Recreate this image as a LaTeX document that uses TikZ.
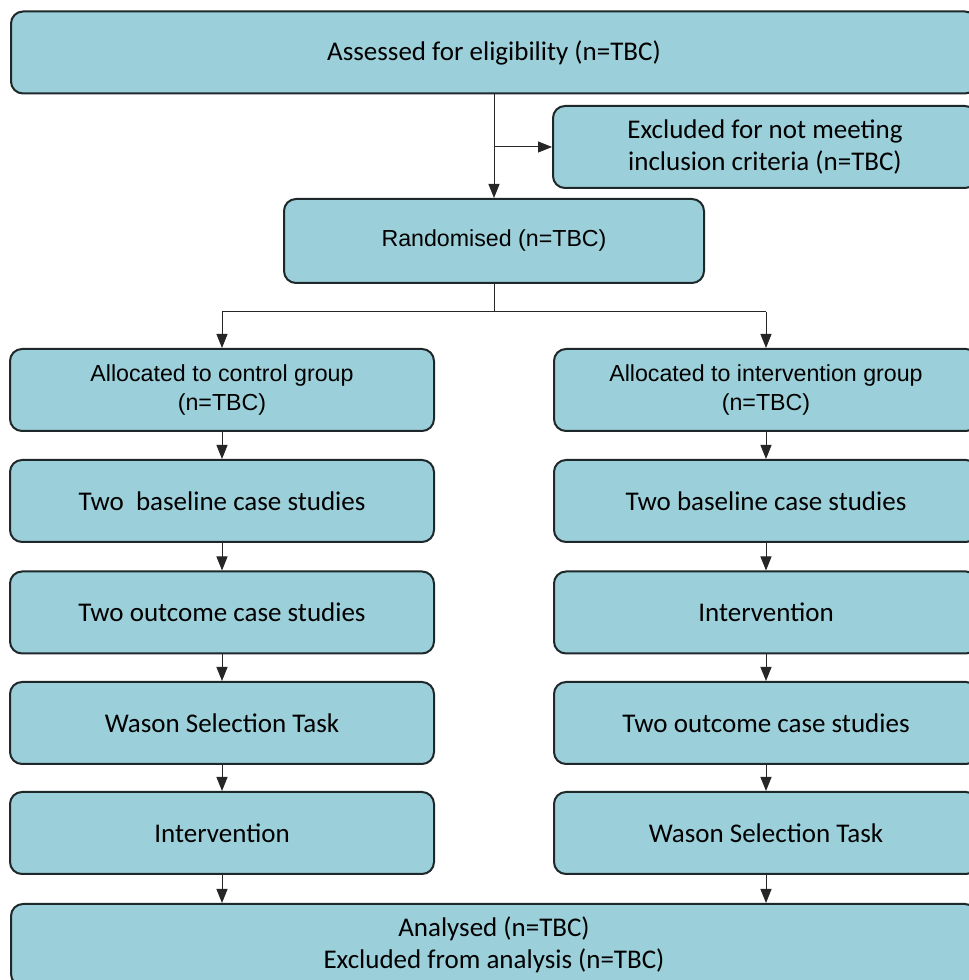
\documentclass[tikz,border=0pt]{standalone}
\usepackage{fontspec}
\setmainfont{Carlito}
\newfontfamily\arialfont{Liberation Sans}
\usepackage{tikz}
\usetikzlibrary{arrows.meta, calc}
\definecolor{boxfill}{RGB}{155,207,217}
\definecolor{boxline}{RGB}{30,40,42}
\tikzset{
	flowbox/.style={draw=boxline, line width=1pt, fill=boxfill, rounded corners=6pt,
		align=center, inner sep=0pt, minimum height=41pt,
		font=\fontsize{13.5}{16}\selectfont},
	widebox/.style={flowbox, minimum width=483pt},
	colbox/.style={flowbox, minimum width=212pt},
	arialbox/.style={font=\arialfont\fontsize{11.6}{14.5}\selectfont},
	flowline/.style={draw=black!85, line width=0.5pt, -{Triangle[width=5.5pt, length=7pt]}}
}

\begin{document}
\begin{tikzpicture}[x=0.5pt, y=0.5pt]
	\useasboundingbox (0,0) rectangle (969,980);
	\clip (0,0) rectangle (969,980);
	\node [widebox] (assess) at (494,927.5) {Assessed for eligibility (n=TBC)};
	\node [colbox] (excl) at (765,833) {Excluded for not meeting\\inclusion criteria (n=TBC)};
	\node [colbox, arialbox, minimum height=42pt, minimum width=210pt] (rand) at (494,739) {Randomised (n=TBC)};
	% control group
	\node [colbox, arialbox] (ctrlA) at (222,590) {Allocated to control group\\(n=TBC)};
	\node [colbox] (ctrlB) at (222,479) {Two\ \ baseline case studies};
	\node [colbox] (ctrlC) at (222,367.5) {Two outcome case studies};
	\node [colbox] (ctrlD) at (222,257) {Wason Selection Task};
	\node [colbox] (ctrlE) at (222,147) {Intervention};
	% intervention group
	\node [colbox, arialbox] (intvA) at (766,590) {Allocated to intervention group\\(n=TBC)};
	\node [colbox] (intvB) at (766,479) {Two baseline case studies};
	\node [colbox] (intvC) at (766,367.5) {Intervention};
	\node [colbox] (intvD) at (766,257) {Two outcome case studies};
	\node [colbox] (intvE) at (766,147) {Wason Selection Task};
	\node [widebox] (anal) at (494,35) {Analysed (n=TBC)\\Excluded from analysis (n=TBC)};
	% connectors
	\coordinate (branch) at (assess.south |- excl.west);
	\coordinate (split) at (494,668);
	\draw [flowline] (assess.south) -- (rand.north);
	\draw [flowline] (branch) -- (excl.west);
	\draw [draw=black!85, line width=0.5pt] (rand.south) -- (split);
	\draw [draw=black!85, line width=0.5pt] (ctrlA.north |- split) -- (intvA.north |- split);
	\draw [flowline] (ctrlA.north |- split) -- (ctrlA.north);
	\draw [flowline] (intvA.north |- split) -- (intvA.north);
	\foreach \g in {ctrl, intv} {
		\draw [flowline] (\g A) -- (\g B);
		\draw [flowline] (\g B) -- (\g C);
		\draw [flowline] (\g C) -- (\g D);
		\draw [flowline] (\g D) -- (\g E);
		\draw [flowline] (\g E.south) -- (\g E.south |- anal.north);
	}
\end{tikzpicture}
\end{document}
